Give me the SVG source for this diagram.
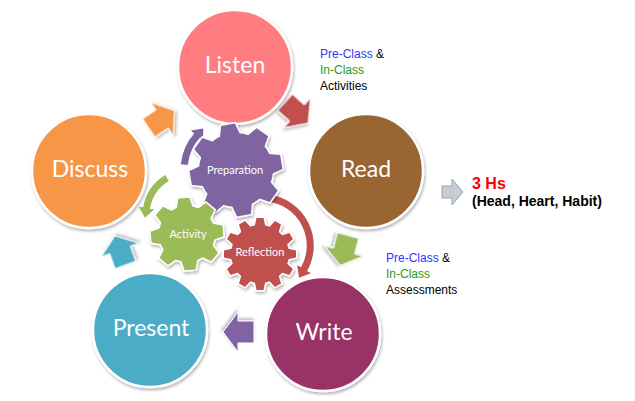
<svg xmlns="http://www.w3.org/2000/svg" xmlns:xlink="http://www.w3.org/1999/xlink" width="635" height="401" viewBox="0 0 635 401">
<style>
.ctext{font-family:Lato,"Noto Sans","Liberation Sans",sans-serif;font-size:23px;fill:#fff;text-anchor:middle}
.gtext{font-family:Lato,"Noto Sans","Liberation Sans",sans-serif;font-size:11px;fill:#fff;text-anchor:middle}
.circ{stroke:#fff;stroke-width:2.5;filter:url(#sh)}
.lbl{font-family:"Liberation Sans",Arial,sans-serif;font-size:12px;fill:#000}
.blue{fill:#3333FF}
.green{fill:#1E9A1E}
.gout{stroke:#fff;stroke-width:3;filter:url(#sh)}
.blk{stroke:#fff;stroke-width:1;filter:url(#sh)}
.carc{fill:none;stroke-width:7}
</style>
<defs>
<filter id="sh" x="-20%" y="-20%" width="140%" height="140%">
<feDropShadow dx="1" dy="2" stdDeviation="1.5" flood-color="#000" flood-opacity="0.3"/>
</filter>
<polygon id="blkArrow" points="-16,-11 0,-11 0,-20 15,0 0,20 0,11 -16,11"/>
<polygon id="tP" points="-10,-35 -7,-46 7,-46 10,-35"/>
<polygon id="tA" points="-8,-26 -5.5,-36 5.5,-36 8,-26"/>
<polygon id="tR" points="-5.5,-27 -3.5,-36 3.5,-36 5.5,-27"/>
<g id="gP">
<circle r="37"/>
<use xlink:href="#tP" transform="rotate(-10)"/>
<use xlink:href="#tP" transform="rotate(35)"/>
<use xlink:href="#tP" transform="rotate(80)"/>
<use xlink:href="#tP" transform="rotate(125)"/>
<use xlink:href="#tP" transform="rotate(170)"/>
<use xlink:href="#tP" transform="rotate(215)"/>
<use xlink:href="#tP" transform="rotate(260)"/>
<use xlink:href="#tP" transform="rotate(305)"/>
</g>
<g id="gA">
<circle r="28"/>
<use xlink:href="#tA" transform="rotate(-5)"/>
<use xlink:href="#tA" transform="rotate(40)"/>
<use xlink:href="#tA" transform="rotate(85)"/>
<use xlink:href="#tA" transform="rotate(130)"/>
<use xlink:href="#tA" transform="rotate(175)"/>
<use xlink:href="#tA" transform="rotate(220)"/>
<use xlink:href="#tA" transform="rotate(265)"/>
<use xlink:href="#tA" transform="rotate(310)"/>
</g>
<g id="gR">
<circle r="29"/>
<use xlink:href="#tR" transform="rotate(0)"/>
<use xlink:href="#tR" transform="rotate(30)"/>
<use xlink:href="#tR" transform="rotate(60)"/>
<use xlink:href="#tR" transform="rotate(90)"/>
<use xlink:href="#tR" transform="rotate(120)"/>
<use xlink:href="#tR" transform="rotate(150)"/>
<use xlink:href="#tR" transform="rotate(180)"/>
<use xlink:href="#tR" transform="rotate(210)"/>
<use xlink:href="#tR" transform="rotate(240)"/>
<use xlink:href="#tR" transform="rotate(270)"/>
<use xlink:href="#tR" transform="rotate(300)"/>
<use xlink:href="#tR" transform="rotate(330)"/>
</g>
<marker id="mP" viewBox="0 -8 10 16" markerUnits="userSpaceOnUse" markerWidth="10" markerHeight="16" refX="1" refY="0" orient="auto"><path d="M0,-8 L10,0 L0,8 z" fill="#8064A2"/></marker>
<marker id="mG" viewBox="0 -8 10 16" markerUnits="userSpaceOnUse" markerWidth="10" markerHeight="16" refX="1" refY="0" orient="auto"><path d="M0,-8 L10,0 L0,8 z" fill="#9BBB59"/></marker>
<marker id="mR" viewBox="0 -8 10 16" markerUnits="userSpaceOnUse" markerWidth="10" markerHeight="16" refX="1" refY="0" orient="auto"><path d="M0,-8 L10,0 L0,8 z" fill="#C0504D"/></marker>
</defs>
<rect width="635" height="401" fill="#fff"/>

<g id="connectors">
<use xlink:href="#blkArrow" class="blk" fill="#F79646" transform="translate(162,119) rotate(-34)"/>
<use xlink:href="#blkArrow" class="blk" fill="#C0504D" transform="translate(297,113) rotate(42)"/>
<use xlink:href="#blkArrow" class="blk" fill="#9BBB59" transform="translate(344,251) rotate(105)"/>
<use xlink:href="#blkArrow" class="blk" fill="#8064A2" transform="translate(238,332) rotate(180)"/>
<use xlink:href="#blkArrow" class="blk" fill="#4BACC6" transform="translate(120,250) rotate(-110)"/>
<path class="carc" stroke="#8064A2" d="M184.3,164.6 A52,52 0 0 1 197.4,135.2" marker-end="url(#mP)"/>
<path class="carc" stroke="#9BBB59" d="M167,178 A44,44 0 0 0 146.4,208.9" marker-end="url(#mG)"/>
<path class="carc" stroke="#C0504D" stroke-width="6" d="M268,198 A48,48 0 0 1 303.6,270" marker-end="url(#mR)"/>
<polygon points="442,186 452,186 452,179 463,192 452,205 452,198 442,198" fill="#C9CDD2" stroke="#8CA4C4" stroke-width="1"/>
</g>

<g id="node-listen">
<circle class="circ" cx="235" cy="67" r="57" fill="#FF7C80"/>
<text class="ctext" x="235" y="73">Listen</text>
</g>
<g id="node-read">
<circle class="circ" cx="366" cy="171" r="57" fill="#996633"/>
<text class="ctext" x="366" y="177">Read</text>
</g>
<g id="node-write">
<circle class="circ" cx="323" cy="334" r="57" fill="#993366"/>
<text class="ctext" x="324" y="340">Write</text>
</g>
<g id="node-present">
<circle class="circ" cx="150" cy="330" r="57" fill="#4BACC6"/>
<text class="ctext" x="151" y="336">Present</text>
</g>
<g id="node-discuss">
<circle class="circ" cx="89" cy="171" r="57" fill="#F79646"/>
<text class="ctext" x="90" y="177">Discuss</text>
</g>

<g id="node-preparation" transform="translate(236,170)">
<use xlink:href="#gP" class="gout" fill="#8064A2"/>
<use xlink:href="#gP" fill="#8064A2"/>
<text class="gtext" x="-1" y="4">Preparation</text>
</g>
<g id="node-activity" transform="translate(187,234)">
<use xlink:href="#gA" class="gout" fill="#9BBB59"/>
<use xlink:href="#gA" fill="#9BBB59"/>
<text class="gtext" x="1" y="4">Activity</text>
</g>
<g id="node-reflection" transform="translate(260,254)">
<use xlink:href="#gR" class="gout" fill="#C0504D"/>
<use xlink:href="#gR" fill="#C0504D"/>
<text class="gtext" x="0" y="2">Reflection</text>
</g>

<g id="label-activities">
<text class="lbl" x="320" y="58"><tspan class="blue">Pre-Class</tspan> &amp;</text>
<text class="lbl green" x="320" y="74">In-Class</text>
<text class="lbl" x="320" y="90">Activities</text>
</g>
<g id="label-assessments">
<text class="lbl" x="386" y="262"><tspan class="blue">Pre-Class</tspan> &amp;</text>
<text class="lbl green" x="386" y="278">In-Class</text>
<text class="lbl" x="386" y="294">Assessments</text>
</g>
<g id="label-3hs">
<text x="472" y="189" font-family="'Liberation Sans',Arial,sans-serif" font-size="16" font-weight="bold" fill="#FF0000">3 Hs</text>
<text x="472" y="206" font-family="'Liberation Sans',Arial,sans-serif" font-size="14" font-weight="bold" fill="#000">(Head, Heart, Habit)</text>
</g>
</svg>
